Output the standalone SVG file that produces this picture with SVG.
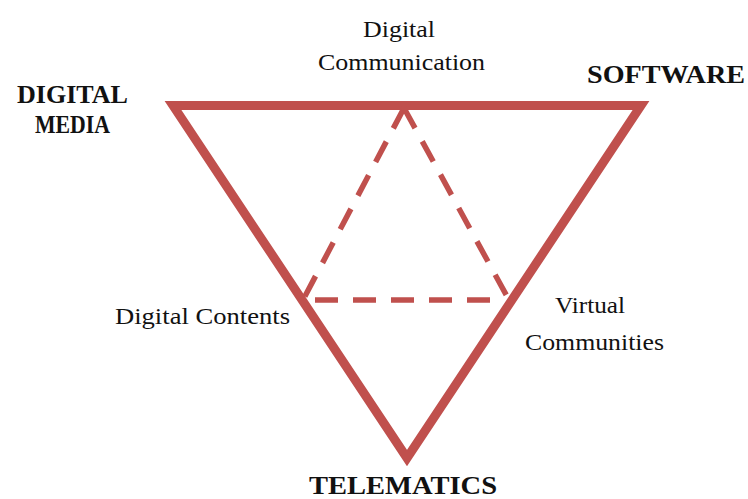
<svg xmlns="http://www.w3.org/2000/svg" width="748" height="499" viewBox="0 0 748 499">
<style>
.big{fill:none;stroke:#c0504d;stroke-width:9;stroke-linejoin:miter;stroke-miterlimit:10}
.dash{fill:none;stroke:#c0504d;stroke-width:5.5;stroke-dasharray:23 15}
.b{font-family:"Liberation Serif","Times New Roman",serif;font-weight:bold;font-size:25px;fill:#111}
.r{font-family:"Liberation Serif","Times New Roman",serif;font-size:24px;fill:#111}
</style>
<rect width="748" height="499" fill="#ffffff"/>
<g id="connectors">
<polygon class="big" points="173,105.5 641,105.5 407,458"/>
<line class="dash" x1="404" y1="108" x2="303" y2="300"/>
<line class="dash" x1="404" y1="108" x2="509" y2="300"/>
<line class="dash" x1="315" y1="300" x2="500" y2="300"/>
</g>
<g id="digital-media">
<text class="b" x="17" y="103" textLength="111" lengthAdjust="spacingAndGlyphs">DIGITAL</text>
<text class="b" x="35" y="133" textLength="75" lengthAdjust="spacingAndGlyphs">MEDIA</text>
</g>
<g id="software">
<text class="b" x="587" y="83" textLength="158" lengthAdjust="spacingAndGlyphs">SOFTWARE</text>
</g>
<g id="telematics">
<text class="b" x="309" y="494" textLength="188" lengthAdjust="spacingAndGlyphs">TELEMATICS</text>
</g>
<g id="digital-communication">
<text class="r" x="363" y="37" textLength="72" lengthAdjust="spacingAndGlyphs">Digital</text>
<text class="r" x="318" y="70" textLength="167" lengthAdjust="spacingAndGlyphs">Communication</text>
</g>
<g id="digital-contents">
<text class="r" x="115" y="324" textLength="175" lengthAdjust="spacingAndGlyphs">Digital Contents</text>
</g>
<g id="virtual-communities">
<text class="r" x="555" y="313" textLength="70" lengthAdjust="spacingAndGlyphs">Virtual</text>
<text class="r" x="525" y="350" textLength="139" lengthAdjust="spacingAndGlyphs">Communities</text>
</g>
</svg>
